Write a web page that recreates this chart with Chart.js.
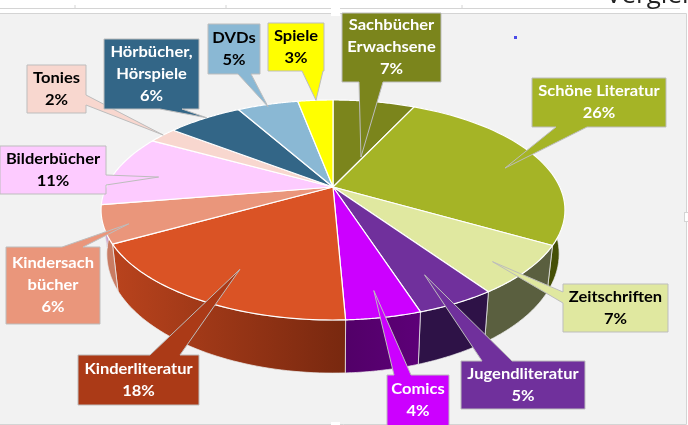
<!DOCTYPE html>
<html>
<head>
<meta charset="utf-8">
<title>Anteile der Medien</title>
<script src="https://cdn.jsdelivr.net/npm/chart.js@4"></script>
<style>
  html, body { margin: 0; padding: 0; background: #fff; overflow: hidden; }
  canvas { display: block; }
</style>
</head>
<body>
<canvas id="myChart" width="688" height="425"></canvas>
<script>
const categories = ['Sachbücher Erwachsene', 'Schöne Literatur', 'Zeitschriften', 'Jugendliteratur', 'Comics', 'Kinderliteratur', 'Kindersachbücher', 'Bilderbücher', 'Tonies', 'Hörbücher, Hörspiele', 'DVDs', 'Spiele'];
// aus den tortenstuecken geschaetzt, beschriftung zeigt gerundete werte
const anteile = [7, 26.3, 7.1, 4.6, 4.3, 17.6, 5.5, 10.6, 2.4, 6.4, 5.2, 3];
const labelLines = [['Sachbücher', 'Erwachsene'], ['Schöne Literatur'], ['Zeitschriften'], ['Jugendliteratur'], ['Comics'], ['Kinderliteratur'], ['Kindersach', 'bücher'], ['Bilderbücher'], ['Tonies'], ['Hörbücher,', 'Hörspiele'], ['DVDs'], ['Spiele']];

const sliceColors = ['#7b851c', '#a5b426', '#e0e8a0', '#70309c', '#cc00ff', '#da5325', '#ea967b', '#fdcbff', '#f8d7cf', '#336687', '#8ab8d4', '#ffff00'];
const boxColors = ['#7b851c', '#a5b426', '#e0e8a0', '#70309c', '#cc00ff', '#ab3a17', '#ea967b', '#fdcbff', '#f8d7cf', '#336687', '#8ab8d4', '#ffff00'];
const textColors = ['#fff', '#fff', '#000', '#fff', '#fff', '#fff', '#fff', '#000', '#000', '#fff', '#000', '#000'];
// seitenwand: links -> rechts
const wallColors = [['#4f560f', '#4f560f'], ['#3a4404', '#465006'], ['#5a5f3f', '#5a5f3f'], ['#2e1247', '#2e1247'], ['#520068', '#5d0078'], ['#b9431d', '#78280f'], ['#c97c63', '#c97c63'], ['#c9a0cc', '#c9a0cc'], ['#c9a89f', '#c9a89f'], ['#234a62', '#234a62'], ['#6a8fa6', '#6a8fa6'], ['#c9c900', '#c9c900']];

// box: x, y, w, h / tail: seite, von, bis / tip: radius (0-1), winkel-versatz in grad
const callouts = [
  { box: [342, 13, 99, 69], tail: ['bottom', 359, 383], tip: [0.33, 10.8] },
  { box: [532, 78, 134, 49], tail: ['bottom', 556, 587], tip: [0.81, 4.1] },
  { box: [563, 284, 105, 48], tail: ['left', 292, 303], tip: [0.87, 2.6] },
  { box: [461, 361, 124, 48], tail: ['top', 482, 512], tip: [0.79, 0.5] },
  { box: [387, 375, 62, 51], tail: ['top', 394, 411], tip: [0.83, -0.1] },
  { box: [78, 355, 121, 50], tail: ['top', 150, 180], tip: [0.76, -1.5] },
  { box: [6, 247, 94, 77], tail: ['top', 62, 83], tip: [0.9, -2] },
  { box: [0, 146, 106, 48], tail: ['right', 175, 185], tip: [0.79, -2.7] },
  { box: [27, 65, 59, 48], tail: ['right', 95, 105], tip: [1, 0.3] },
  { box: [104, 39, 95, 70], tail: ['bottom', 160, 182], tip: [1, 0.8] },
  { box: [208, 24, 52, 50], tail: ['bottom', 238, 251], tip: [0.97, -0.4] },
  { box: [268, 23, 56, 48], tail: ['bottom', 302, 323], tip: [1, 0.2] }
];

const perspective = 0.209;
const stretchX = 1.213;
const stretchY = 0.5626;
const depth = 42;

function project(arc, angle, radius) {
  const u = Math.cos(angle) * radius;
  const v = Math.sin(angle) * radius;
  const w = 1 - perspective * v;
  return {
    x: arc.x + arc.outerRadius * stretchX * u / w,
    y: arc.y + arc.outerRadius * stretchY * v / w,
    w
  };
}

function lower(arc, p) {
  return { x: arc.x + (p.x - arc.x) * 0.975, y: p.y + depth / p.w };
}

function arcPoints(arc) {
  const points = [];
  const steps = 48;
  for (let i = 0; i <= steps; i++) {
    const angle = arc.startAngle + (arc.endAngle - arc.startAngle) * i / steps;
    points.push(project(arc, angle, 1));
  }
  return points;
}

function drawWall(ctx, arc, colors) {
  const top = arcPoints(arc);
  const bottom = top.map(p => lower(arc, p));
  const xs = top.map(p => p.x);
  const gradient = ctx.createLinearGradient(Math.min(...xs), 0, Math.max(...xs), 0);
  gradient.addColorStop(0, colors[0]);
  gradient.addColorStop(1, colors[1]);
  ctx.beginPath();
  top.forEach((p, i) => (i ? ctx.lineTo(p.x, p.y) : ctx.moveTo(p.x, p.y)));
  bottom.reverse().forEach(p => ctx.lineTo(p.x, p.y));
  ctx.closePath();
  ctx.fillStyle = gradient;
  ctx.fill();
  ctx.strokeStyle = 'rgba(235,235,235,0.75)';
  ctx.lineWidth = 1;
  ctx.stroke();
}

function drawTop(ctx, arc, color) {
  ctx.beginPath();
  ctx.moveTo(arc.x, arc.y);
  arcPoints(arc).forEach(p => ctx.lineTo(p.x, p.y));
  ctx.closePath();
  ctx.fillStyle = color;
  ctx.fill();
  ctx.strokeStyle = '#fff';
  ctx.lineWidth = 1.2;
  ctx.lineJoin = 'round';
  ctx.stroke();
}

function drawCallout(ctx, arc, item, index) {
  const [x, y, w, h] = item.box;
  const [side, from, to] = item.tail;
  const mid = (arc.startAngle + arc.endAngle) / 2 + item.tip[1] * Math.PI / 180;
  const tip = project(arc, mid, item.tip[0]);

  ctx.beginPath();
  ctx.moveTo(x, y);
  if (side === 'top') {
    ctx.lineTo(from, y); ctx.lineTo(tip.x, tip.y); ctx.lineTo(to, y);
  }
  ctx.lineTo(x + w, y);
  if (side === 'right') {
    ctx.lineTo(x + w, from); ctx.lineTo(tip.x, tip.y); ctx.lineTo(x + w, to);
  }
  ctx.lineTo(x + w, y + h);
  if (side === 'bottom') {
    ctx.lineTo(to, y + h); ctx.lineTo(tip.x, tip.y); ctx.lineTo(from, y + h);
  }
  ctx.lineTo(x, y + h);
  if (side === 'left') {
    ctx.lineTo(x, to); ctx.lineTo(tip.x, tip.y); ctx.lineTo(x, from);
  }
  ctx.closePath();
  ctx.fillStyle = boxColors[index];
  ctx.fill();
  ctx.strokeStyle = '#bdbdbd';
  ctx.lineWidth = 1;
  ctx.lineJoin = 'miter';
  ctx.stroke();

  const lines = [...labelLines[index], `${Math.round(anteile[index])}%`];
  const lineHeight = 22;
  ctx.fillStyle = textColors[index];
  ctx.font = 'bold 15px Lato';
  ctx.textAlign = 'center';
  ctx.textBaseline = 'middle';
  lines.forEach((line, i) => {
    ctx.save();
    ctx.translate(x + w / 2, y + h / 2 + (i - (lines.length - 1) / 2) * lineHeight);
    ctx.scale(1.1, 1);
    ctx.fillText(line, 0, 0);
    ctx.restore();
  });
}

const frame = {
  id: 'frame',
  beforeDraw(chart) {
    const { ctx } = chart;
    ctx.save();
    ctx.fillStyle = '#fff';
    ctx.fillRect(0, 0, 688, 425);
    ctx.fillStyle = '#f2f2f2';
    ctx.fillRect(0, 13, 686, 411);
    ctx.strokeStyle = '#d4d4d4';
    ctx.lineWidth = 1;
    ctx.beginPath();
    ctx.moveTo(0, 8.5); ctx.lineTo(680, 8.5);
    ctx.moveTo(0, 13.5); ctx.lineTo(686.5, 13.5); ctx.lineTo(686.5, 424.5); ctx.lineTo(0, 424.5);
    ctx.moveTo(75, 5); ctx.lineTo(75, 8);
    ctx.moveTo(226, 5); ctx.lineTo(226, 8);
    ctx.moveTo(462, 5); ctx.lineTo(462, 8);
    ctx.stroke();
    // griffe am rahmen
    ctx.fillStyle = '#fff';
    ctx.fillRect(331, 8, 9, 8);
    ctx.strokeRect(684.5, 212.5, 4, 9);
    ctx.fillRect(685, 213, 3, 8);
    ctx.fillRect(331, 422, 9, 3);
    ctx.fillStyle = '#4a4ae8';
    ctx.fillRect(514, 36, 3, 3);
    ctx.fillStyle = '#222';
    ctx.font = '26px "Open Sans"';
    ctx.textAlign = 'left';
    ctx.textBaseline = 'alphabetic';
    ctx.fillText('Vergleich', 606, 3);
    ctx.restore();
  }
};

const pie3d = {
  id: 'pie3d',
  beforeDatasetsDraw(chart) {
    const { ctx } = chart;
    const arcs = chart.getDatasetMeta(0).data;
    ctx.save();
    arcs.forEach((arc, i) => drawWall(ctx, arc, wallColors[i]));
    arcs.forEach((arc, i) => drawTop(ctx, arc, sliceColors[i]));
    arcs.forEach((arc, i) => drawCallout(ctx, arc, callouts[i], i));
    ctx.restore();
    return false;
  }
};

const canvas = document.getElementById('myChart').getContext('2d');
const myChart = new Chart(canvas, {
  type: 'pie',
  data: {
    labels: categories,
    datasets: [{ data: anteile, backgroundColor: sliceColors, borderWidth: 0, hoverOffset: 0 }]
  },
  options: {
    responsive: false,
    animation: false,
    events: [],
    layout: { padding: { left: 0, right: 22, top: 0, bottom: 51 } },
    plugins: { legend: { display: false }, tooltip: { enabled: false } }
  },
  plugins: [frame, pie3d]
});
</script>
</body>
</html>
